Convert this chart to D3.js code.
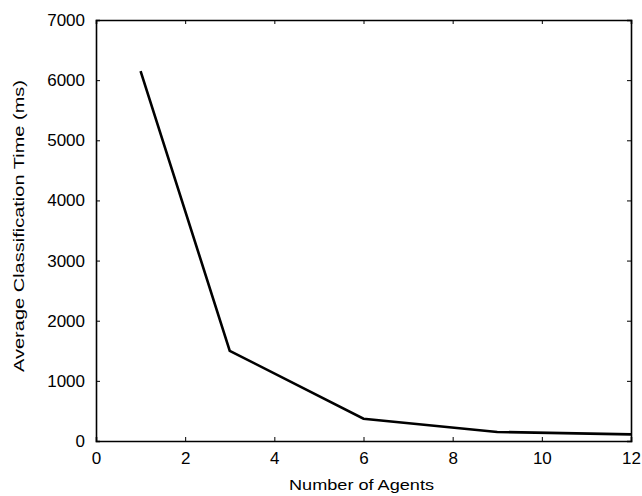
<!DOCTYPE html>
<html><head><meta charset="utf-8">
<script src="https://cdn.jsdelivr.net/npm/d3@7"></script>
<style>body{margin:0;background:#fff}svg{display:block}text{font-family:"Liberation Sans",Arial,sans-serif;fill:#000}</style>
</head><body><svg id="c" width="642" height="496"></svg>
<script>
const agents = [1, 3, 6, 9, 12];
const times = [6150, 1500, 370, 150, 110];
const xTicks = [0, 2, 4, 6, 8, 10, 12];
const yTicks = [0, 1000, 2000, 3000, 4000, 5000, 6000, 7000];

const svg = d3.select("#c");
const L = 96, R = 631, T = 20, B = 441;
const x = d3.scaleLinear().domain([0, 12]).range([L, R]);
const y = d3.scaleLinear().domain([0, 7000]).range([B, T]);

const axB = svg.append("g").attr("transform", `translate(0,${B})`)
  .call(d3.axisBottom(x).tickValues(xTicks).tickSize(-4).tickPadding(11).tickFormat(d3.format("d")));
const axT = svg.append("g").attr("transform", `translate(0,${T})`)
  .call(d3.axisTop(x).tickValues(xTicks).tickSize(-4).tickFormat(""));
const axL = svg.append("g").attr("transform", `translate(${L},0)`)
  .call(d3.axisLeft(y).tickValues(yTicks).tickSize(-4).tickPadding(11).tickFormat(d3.format("d")));
const axR = svg.append("g").attr("transform", `translate(${R},0)`)
  .call(d3.axisRight(y).tickValues(yTicks).tickSize(-4).tickFormat(""));
[axB, axT, axL, axR].forEach(a => {
  a.select(".domain").attr("stroke", "#000").attr("stroke-width", 1.6);
  a.selectAll(".tick line").attr("stroke", "#000").attr("stroke-width", 1);
  a.selectAll("text").style("font-size", "17px").attr("fill", "#000");
});

svg.append("path").datum(agents.map((a, i) => [a, times[i]]))
  .attr("fill", "none").attr("stroke", "#000").attr("stroke-width", 2.6)
  .attr("stroke-linejoin", "miter")
  .attr("d", d3.line().x(d => x(d[0])).y(d => y(d[1])));

svg.append("text").attr("x", 361.5).attr("y", 489.5).attr("text-anchor", "middle")
  .attr("textLength", 145).attr("lengthAdjust", "spacingAndGlyphs")
  .style("font-size", "15px").text("Number of Agents");
svg.append("text").attr("transform", `translate(24,226) rotate(-90)`)
  .attr("text-anchor", "middle").attr("textLength", 292).attr("lengthAdjust", "spacingAndGlyphs")
  .style("font-size", "15.5px").text("Average Classification Time (ms)");
</script></body></html>
